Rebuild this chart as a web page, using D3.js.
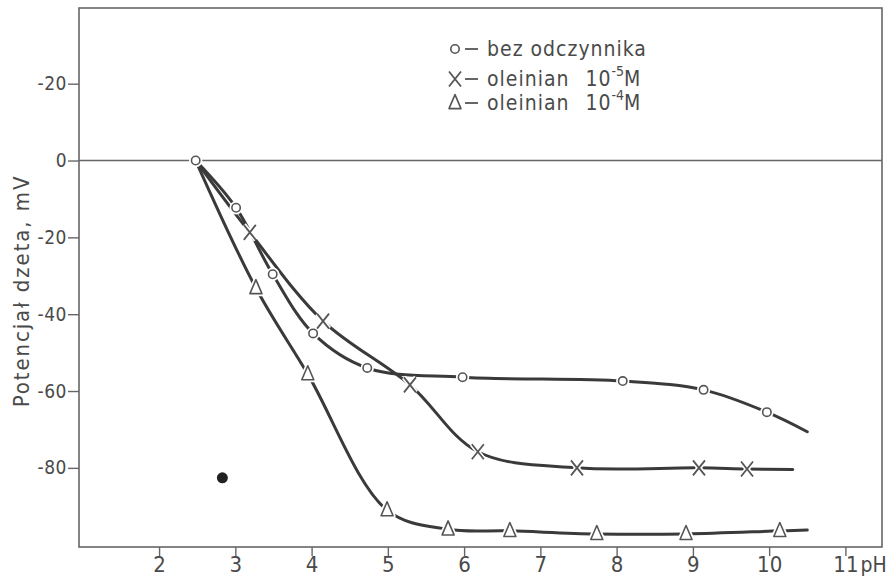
<!DOCTYPE html>
<html><head><meta charset="utf-8">
<script src="https://cdn.jsdelivr.net/npm/d3@7"></script>
<style>
html,body{margin:0;padding:0;background:#fff;}
svg{display:block;}
text{font-family:"DejaVu Sans Condensed","DejaVu Sans",sans-serif;fill:#4a4a4a;}
</style></head>
<body>
<svg id="chart" width="896" height="579"></svg>
<script>
// ---- data ----
const seriesNames = ["bez odczynnika", "oleinian 10-5M", "oleinian 10-4M"];
// series 1: circles (bez odczynnika)
const circlePH    = [2.48, 3.01, 3.49, 4.02, 4.73, 5.98, 8.08, 9.14, 9.97];
const circleZeta  = [0, -12.3, -29.6, -45.0, -54.0, -56.4, -57.4, -59.7, -65.5];
const circleTail  = [10.5, -70.6];
// series 2: crosses (oleinian 10^-5 M)
const crossPH     = [2.48, 3.19, 4.15, 5.29, 6.18, 7.48, 9.08, 9.71];
const crossZeta   = [0, -18.7, -41.8, -58.4, -75.8, -80.0, -80.0, -80.3];
const crossTail   = [10.31, -80.4];
// series 3: triangles (oleinian 10^-4 M)
const triPH       = [2.48, 3.27, 3.95, 4.99, 5.79, 6.60, 7.74, 8.91, 10.14];
const triZeta     = [0, -33.2, -55.6, -91.0, -96.0, -96.4, -97.2, -97.2, -96.4];
const triTail     = [10.5, -96.2];
// stray filled dot in the figure
const dotPoint    = [2.83, -82.6];
// axes
const xTickValues = [2, 3, 4, 5, 6, 7, 8, 9, 10, 11];
const xTickLabels = ["2", "3", "4", "5", "6", "7", "8", "9", "10", "11"];
const yTickValues = [20, 0, -20, -40, -60, -80];
const yTickLabels = ["-20", "0", "-20", "-40", "-60", "-80"];
const xUnit = "pH";
const yTitle = "Potencjał dzeta, mV";

// ---- drawing ----
const svg = d3.select("#chart");
const L = 79, R = 882, T = 8, B = 547;
const x = d3.scaleLinear().domain([0.95, 11.48]).range([L, R]);
const y = d3.scaleLinear().domain([-100.6, 39.7]).range([B, T]);
const ink = "#444", lineInk = "#3a3a3a";
const FF = '"DejaVu Sans Condensed","DejaVu Sans",sans-serif';

// frame
svg.append("rect").attr("x", L).attr("y", T).attr("width", R - L).attr("height", B - T)
  .attr("fill", "none").attr("stroke", "#666").attr("stroke-width", 1.6);
// zero line
svg.append("line").attr("x1", L).attr("x2", R).attr("y1", y(0)).attr("y2", y(0))
  .attr("stroke", "#666").attr("stroke-width", 1.6);

// y axis
const yAxis = d3.axisLeft(y).tickValues(yTickValues).tickSize(11).tickPadding(1)
  .tickFormat((d, i) => yTickLabels[i]);
const gy = svg.append("g").attr("transform", `translate(${L},0)`).call(yAxis);
gy.select(".domain").remove();
gy.selectAll(".tick line").attr("stroke", "#666").attr("stroke-width", 1.4);
gy.selectAll(".tick text").style("font-size", "19px").style("fill", "#4a4a4a")
  .style("letter-spacing", "0.5px").style("font-family", FF);

// x axis
const xAxis = d3.axisBottom(x).tickValues(xTickValues).tickSize(9).tickPadding(0)
  .tickFormat((d, i) => xTickLabels[i]);
const gx = svg.append("g").attr("transform", `translate(0,${B})`).call(xAxis);
gx.select(".domain").remove();
gx.selectAll(".tick line").attr("stroke", "#666").attr("stroke-width", 1.4);
gx.selectAll(".tick text").style("font-size", "22px").style("fill", "#4a4a4a")
  .style("font-family", FF);
svg.append("text").attr("x", x(11) + 15).attr("y", B + 25).text(xUnit)
  .style("font-size", "21px");

// y title
svg.append("text").attr("transform", `translate(29,${291}) rotate(-90)`)
  .attr("text-anchor", "middle").text(yTitle).style("font-size", "22px")
  .style("letter-spacing", "1.9px");

// curves
const line = d3.line().x(d => x(d[0])).y(d => y(d[1])).curve(d3.curveCatmullRom.alpha(0.5));
function pts(px, pz, tail) { const a = px.map((p, i) => [p, pz[i]]); a.push(tail); return a; }
const sets = [
  {pts: pts(circlePH, circleZeta, circleTail), mk: "circle", px: circlePH, pz: circleZeta},
  {pts: pts(crossPH, crossZeta, crossTail), mk: "cross", px: crossPH, pz: crossZeta},
  {pts: pts(triPH, triZeta, triTail), mk: "tri", px: triPH, pz: triZeta}
];
sets.forEach(s => {
  svg.append("path").attr("d", line(s.pts)).attr("fill", "none")
    .attr("stroke", lineInk).attr("stroke-width", 3).attr("stroke-linecap", "round");
});

function drawMarker(g, kind, cx, cy, color, halo) {
  const sw = halo ? 5 : 1.6, st = halo ? "#fff" : color;
  if (kind === "circle") {
    g.append("circle").attr("cx", cx).attr("cy", cy).attr("r", 4.2)
      .attr("fill", "#fff").attr("stroke", st).attr("stroke-width", sw);
  } else if (kind === "cross") {
    const a = 6, b = 7.5;
    g.append("path").attr("d", `M${cx - a},${cy + b}L${cx + a},${cy - b}M${cx - a},${cy - b}L${cx + a},${cy + b}`)
      .attr("stroke", st).attr("stroke-width", halo ? 5 : 1.8).attr("fill", "none");
  } else {
    const h = 14, w = 12;
    g.append("path").attr("d", `M${cx},${cy - h * 0.6}L${cx + w / 2},${cy + h * 0.4}L${cx - w / 2},${cy + h * 0.4}Z`)
      .attr("fill", "#fff").attr("stroke", st).attr("stroke-width", sw).attr("stroke-linejoin", "round");
  }
}
const gm = svg.append("g");
sets.forEach(s => {
  s.px.forEach((p, i) => {
    if (i === 0 && s.mk !== "circle") return;
    drawMarker(gm, s.mk, x(p), y(s.pz[i]), ink, true);
  });
});
sets.forEach(s => {
  s.px.forEach((p, i) => {
    if (i === 0 && s.mk !== "circle") return;
    drawMarker(gm, s.mk, x(p), y(s.pz[i]), "#555", false);
  });
});

// stray dot
svg.append("circle").attr("cx", x(dotPoint[0])).attr("cy", y(dotPoint[1])).attr("r", 5.5).attr("fill", "#222");

// legend
const lg = svg.append("g").style("font-size", "21px").style("letter-spacing", "1px");
const legY = [56, 86, 110];
const legSym = ["circle", "cross", "tri"];
const legText = [
  ["bez odczynnika", null, null, ""],
  ["oleinian", "10", "-5", "M"],
  ["oleinian", "10", "-4", "M"]
];
legSym.forEach((k, i) => {
  drawMarker(lg, k, 455, legY[i] - 7, "#555", false);
  lg.append("line").attr("x1", 465).attr("x2", 478).attr("y1", legY[i] - 7).attr("y2", legY[i] - 7)
    .attr("stroke", "#555").attr("stroke-width", 1.8);
  const t = lg.append("text").attr("x", 487).attr("y", legY[i]);
  t.append("tspan").text(legText[i][0]);
  if (legText[i][1]) {
    t.append("tspan").attr("dx", 16).text(legText[i][1]);
    t.append("tspan").attr("dy", -10).style("font-size", "14px").style("letter-spacing", "0px").text(legText[i][2]);
    t.append("tspan").attr("dy", 10).text(legText[i][3]);
  }
});
</script>
</body></html>
